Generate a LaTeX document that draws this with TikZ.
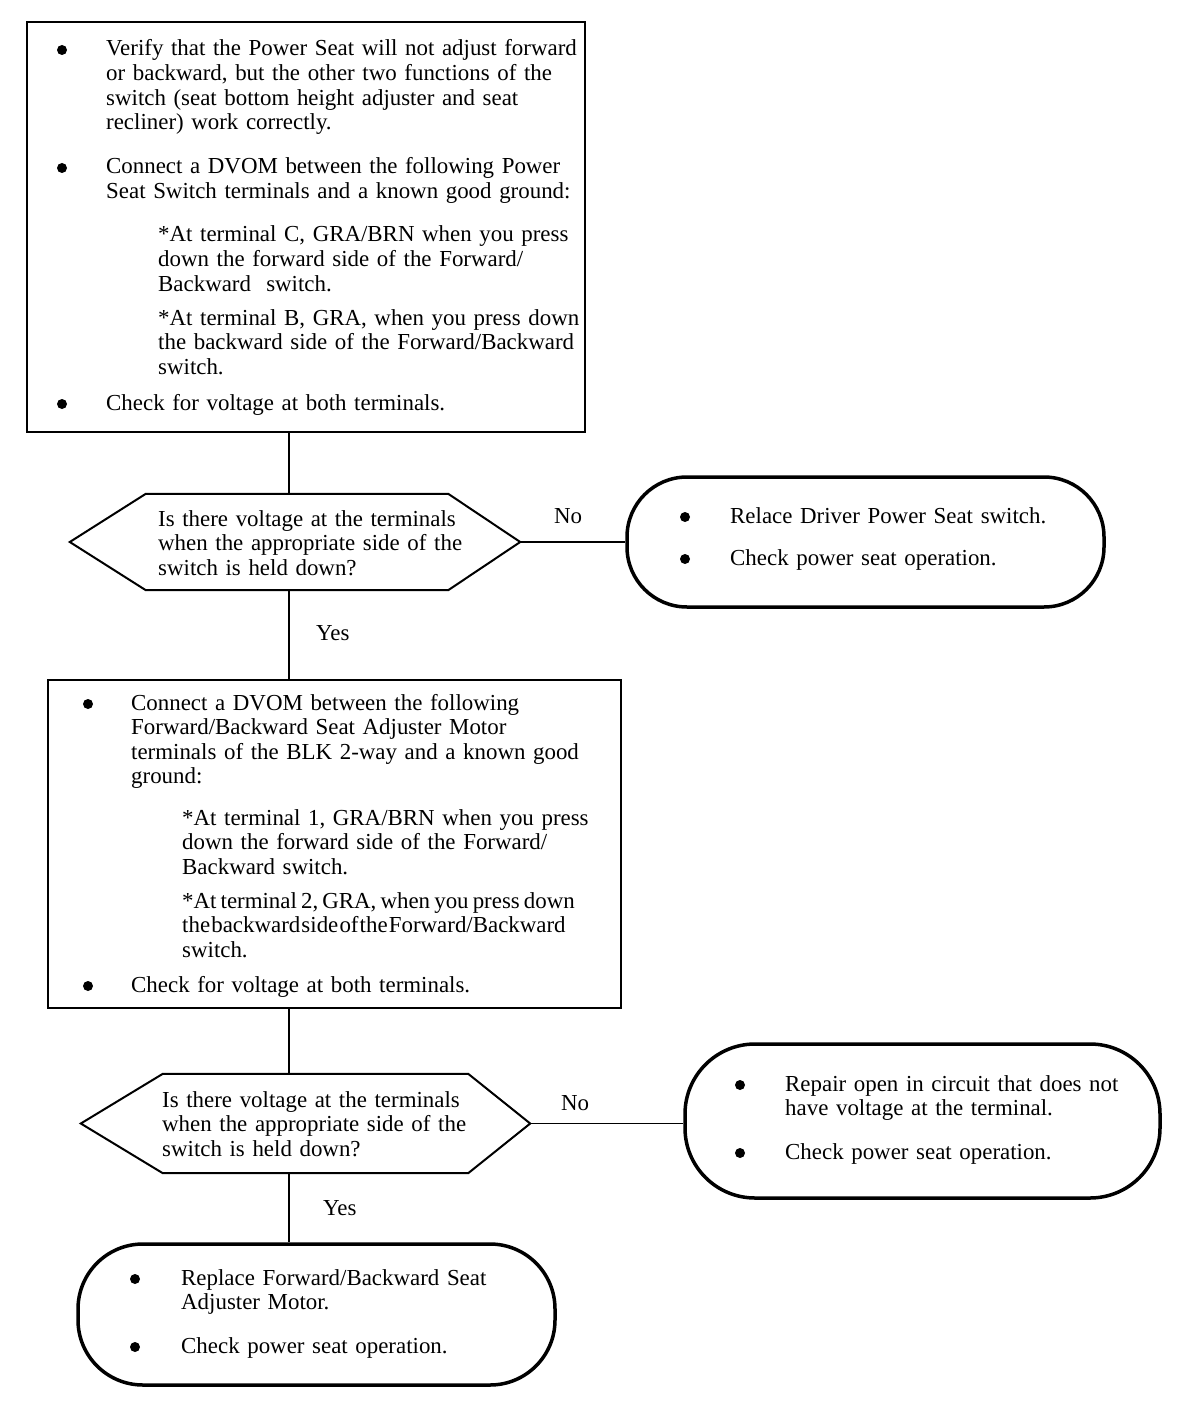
\documentclass[tikz,border=0pt]{standalone}
\usepackage{fontspec}
\setmainfont{Liberation Serif}
\usetikzlibrary{calc}
\newcommand\fs{\fontsize{22.9}{24.6}\selectfont}
\begin{document}
\begin{tikzpicture}[x=1pt,y=-1pt,
  boxnode/.style={draw,line width=2pt,minimum width=#1,inner sep=0},
  pill/.style={draw,line width=3.5pt,inner sep=0},
  hexbase/.style={inner sep=0},
  hexline/.style={line width=2pt},
  conn/.style={line width=1.6pt},
  dot/.style={circle,fill=black,inner sep=0,minimum size=10pt},
  txt/.style={anchor=base west,inner sep=0,text width=700pt,align=left,font=\fs},
  lbl/.style={anchor=base west,inner sep=0,font=\fs}]
\useasboundingbox (0,0) rectangle (1200,1404);
\coordinate (spine) at (289,0);

% ---------- shapes ----------
\node[boxnode=558pt,minimum height=410pt] (b1) at (306,227) {};
\node[hexbase,minimum width=450pt,minimum height=96pt] (d1) at (295,542) {};
\draw[hexline] (d1.west) -- ($(d1.north west)+(76,0)$) -- ($(d1.north east)+(-72,0)$)
  -- (d1.east) -- ($(d1.south east)+(-72,0)$) -- ($(d1.south west)+(76,0)$) -- cycle;
\node[pill,rounded corners=60pt,minimum width=477pt,minimum height=130pt] (r1) at (865.5,542) {};
\node[boxnode=573pt,minimum height=328pt] (b2) at (334.5,844) {};
\node[hexbase,minimum width=449pt,minimum height=99pt] (d2) at (305.5,1123.5) {};
\draw[hexline] (d2.west) -- ($(d2.north west)+(82,0)$) -- ($(d2.north east)+(-62,0)$)
  -- (d2.east) -- ($(d2.south east)+(-62,0)$) -- ($(d2.south west)+(82,0)$) -- cycle;
\node[pill,rounded corners=70pt,minimum width=475pt,minimum height=154pt] (r2) at (922.5,1121) {};
\node[pill,rounded corners=65pt,minimum width=477pt,minimum height=141pt] (r3) at (316.5,1314.5) {};

% ---------- connectors ----------
\draw[conn] (b1.south -| spine) -- (d1.north -| spine);
\draw[conn] (d1.east) -- (d1.east -| r1.west);
\draw[conn] (d1.south -| spine) -- (b2.north -| spine);
\draw[conn] (b2.south -| spine) -- (d2.north -| spine);
\draw[conn] (d2.east) -- (d2.east -| r2.west);
\draw[conn] (d2.south -| spine) -- (r3.north -| spine);

\node[lbl] (no1) at (554,523) {No};
\node[lbl] (yes1) at (316,640) {Yes};
\node[lbl] (no2) at (561,1110) {No};
\node[lbl] (yes2) at (323,1215) {Yes};

% ---------- box 1 ----------
\node[dot] (b1d1) at (62,50) {};
\node[txt] (b1t1) at (106,56) {Verify that the Power Seat will not adjust forward\\or backward, but the other two functions of the\\switch (seat bottom height adjuster and seat\\recliner) work correctly.};
\node[dot] (b1d2) at (62,168) {};
\node[txt] (b1t2) at (106,174) {Connect a DVOM between the following Power\\Seat Switch terminals and a known good ground:};
\node[txt] (b1t3) at (158,242) {*At terminal C, GRA/BRN when you press\\down the forward side of the Forward/\\Backward\ \ switch.};
\node[txt] (b1t4) at (158,325) {*At terminal B, GRA, when you press down\\the backward side of the Forward/Backward\\switch.};
\node[dot] (b1d3) at (62,404) {};
\node[txt] (b1t5) at (106,410) {Check for voltage at both terminals.};

% ---------- decision 1 ----------
\node[txt] (d1t) at (158,526) {Is there voltage at the terminals\\when the appropriate side of the\\switch is held down?};

% ---------- result 1 ----------
\node[dot] (r1d1) at (685,517) {};
\node[txt] (r1t1) at (730,523) {Relace Driver Power Seat switch.};
\node[dot] (r1d2) at (685,559) {};
\node[txt] (r1t2) at (730,565) {Check power seat operation.};

% ---------- box 2 ----------
\node[dot] (b2d1) at (88,704) {};
\node[txt] (b2t1) at (131,710) {Connect a DVOM between the following\\Forward/Backward Seat Adjuster Motor\\terminals of the BLK 2-way and a known good\\ground:};
\node[txt] (b2t2) at (182,825) {*At terminal 1, GRA/BRN when you press\\down the forward side of the Forward/\\Backward switch.};
\node[txt] (b2t3) at (182,908) {{\spaceskip=0.18em plus 0.05em\relax *At terminal 2, GRA, when you press down}\\{\spaceskip=0.05em plus 0.05em\relax the backward side of the Forward/Backward}\\switch.};
\node[dot] (b2d2) at (88,986) {};
\node[txt] (b2t4) at (131,992) {Check for voltage at both terminals.};

% ---------- decision 2 ----------
\node[txt] (d2t) at (162,1107) {Is there voltage at the terminals\\when the appropriate side of the\\switch is held down?};

% ---------- result 2 ----------
\node[dot] (r2d1) at (740,1085) {};
\node[txt] (r2t1) at (785,1091) {Repair open in circuit that does not\\have voltage at the terminal.};
\node[dot] (r2d2) at (740,1153) {};
\node[txt] (r2t2) at (785,1159) {Check power seat operation.};

% ---------- result 3 ----------
\node[dot] (r3d1) at (135,1279) {};
\node[txt] (r3t1) at (181,1285) {Replace Forward/Backward Seat\\Adjuster Motor.};
\node[dot] (r3d2) at (135,1347) {};
\node[txt] (r3t2) at (181,1353) {Check power seat operation.};
\end{tikzpicture}
\end{document}
